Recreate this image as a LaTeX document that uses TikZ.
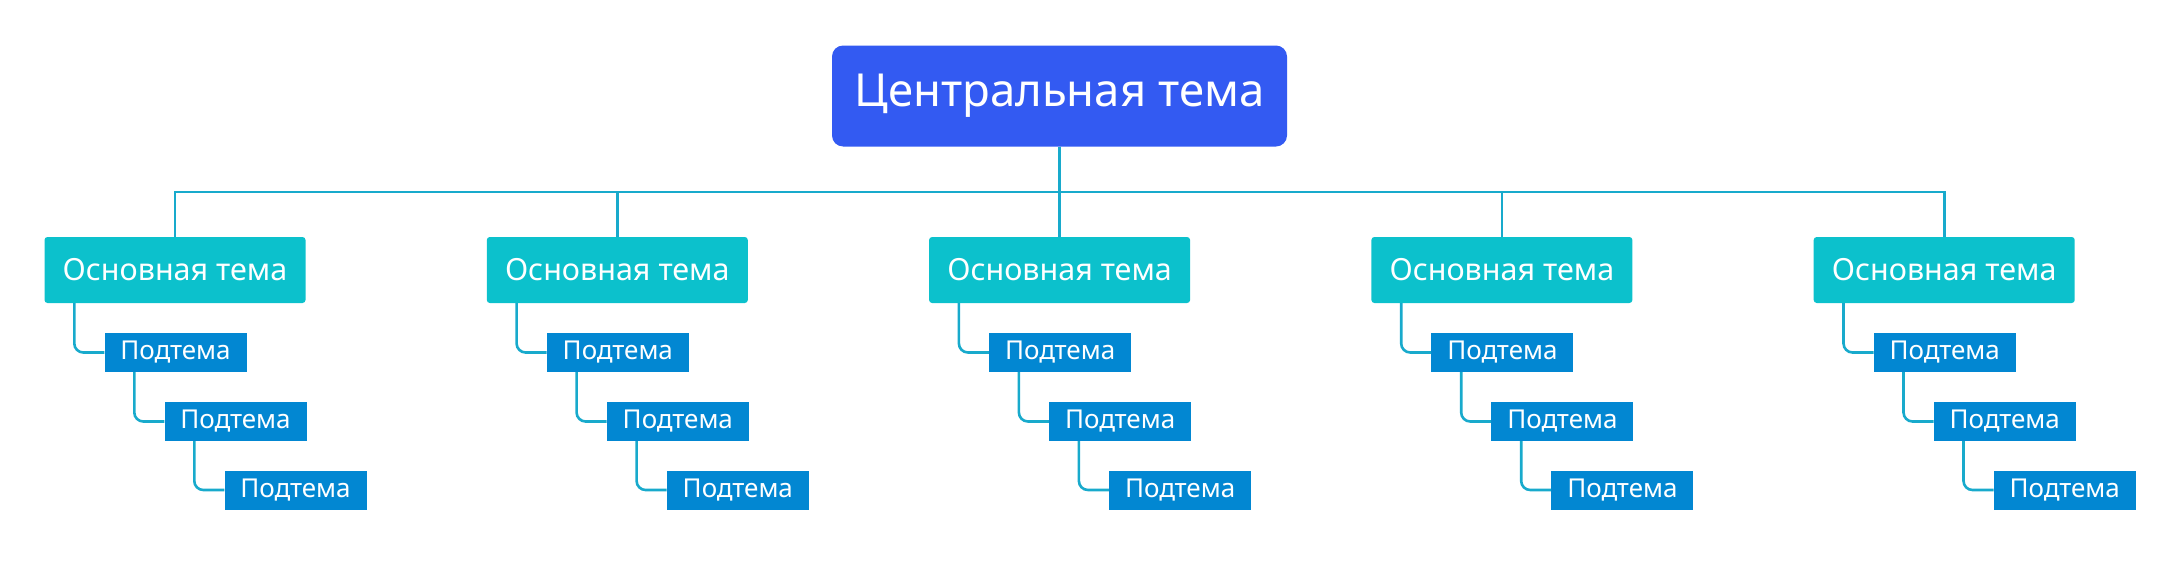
\documentclass[tikz,border=0pt]{standalone}
\usepackage{fontspec}
\setmainfont{Noto Sans}
\definecolor{centc}{RGB}{51,90,242}
\definecolor{mainc}{RGB}{12,193,204}
\definecolor{subc}{RGB}{2,135,210}
\definecolor{linec}{RGB}{24,170,204}
\begin{document}
\begin{tikzpicture}[x=1pt,y=-1pt,
  centbox/.style={rectangle,rounded corners=11pt,fill=centc,text=white,inner sep=0pt,
    minimum width=455pt,minimum height=101pt,font=\fontsize{45.5}{50}\selectfont},
  mainbox/.style={rectangle,rounded corners=3pt,fill=mainc,text=white,inner sep=0pt,
    minimum width=261pt,minimum height=66pt,font=\fontsize{30.5}{36}\selectfont},
  subbox/.style={rectangle,fill=subc,text=white,inner sep=0pt,
    minimum width=142pt,minimum height=39pt,font=\fontsize{26}{30}\selectfont},
  conn/.style={draw=linec,line width=2.6pt},
  subconn/.style={conn,rounded corners=9pt}]
\useasboundingbox (0,0) rectangle (2181,570);
\node[centbox] (c) at (1059.5,96) {Центральная тема};
\coordinate (bus) at (0,192);
\foreach \k in {1,...,5}{
  \pgfmathsetmacro{\L}{44.5+442.3*(\k-1)}
  \node[mainbox] (m\k) at (\L+130.5,270) {Основная тема};
  \node[subbox] (s\k a) at (\L+131,352.5) {Подтема};
  \node[subbox] (s\k b) at (\L+191,421.5) {Подтема};
  \node[subbox] (s\k c) at (\L+251,490) {Подтема};
  \draw[conn] (c.south) -- (c.south |- bus) -| (m\k.north);
  \draw[subconn] ([xshift=30pt]m\k.south west) |- (s\k a.west);
  \draw[subconn] ([xshift=30pt]s\k a.south west) |- (s\k b.west);
  \draw[subconn] ([xshift=30pt]s\k b.south west) |- (s\k c.west);
}
\end{tikzpicture}
\end{document}
